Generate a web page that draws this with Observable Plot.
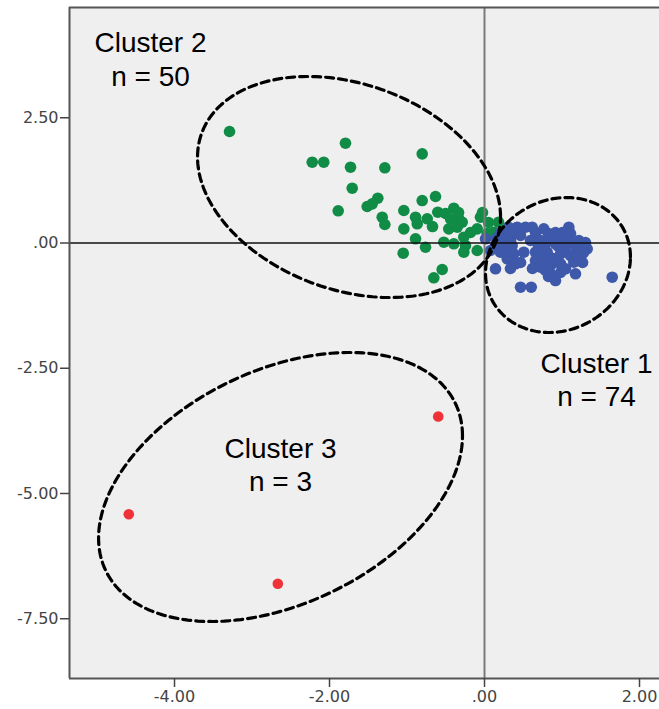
<!DOCTYPE html>
<html>
<head>
<meta charset="utf-8">
<script src="https://cdn.jsdelivr.net/npm/d3@7"></script>
<script src="https://cdn.jsdelivr.net/npm/@observablehq/plot@0.6"></script>
<style>
  body { margin: 0; background: #ffffff; }
</style>
</head>
<body>
<div id="chart"></div>
<script>
// Cluster 1 (n = 74) scores
const cluster1X = [0.310, 0.422, 0.529, 0.615, 0.765, 1.088, 0.271, 0.374, 0.594, 0.852,
  0.981, 1.217, 0.787, 0.916, 1.045, 1.325, 1.196, 0.249, 0.357, 0.206,
  0.378, 0.507, 0.658, 0.723, 0.809, 0.981, 1.110, 1.239, 1.174, 0.293,
  0.400, 0.658, 0.723, 0.852, 0.981, 1.045, 1.152, 0.142, 0.852, 0.916,
  1.174, 0.465, 0.603, 0.013, 0.155, 1.648, 0.465, 0.826, 0.658, 0.723,
  0.826, 0.916, 1.006, 1.110, 1.174, 1.277, 1.045, 0.890, 0.787, 0.310,
  0.465, 0.335, 0.206, 0.142, 0.077, 0.697, 0.955, 1.084, 0.619, 0.981,
  0.787, 1.303, 0.335, 1.265];
const cluster1Y = [0.315, 0.315, 0.315, 0.315, 0.283, 0.315, 0.150, 0.190, 0.050, 0.084,
  0.084, 0.050, -0.016, -0.016, -0.050, -0.116, -0.116, -0.050, -0.050, -0.184,
  -0.216, -0.184, -0.184, -0.216, -0.184, -0.216, -0.250, -0.283, -0.315, -0.315,
  -0.415, -0.349, -0.483, -0.449, -0.415, -0.515, -0.383, -0.515, -0.615, -0.749,
  -0.615, -0.882, -0.882, 0.084, 0.090, -0.683, 0.150, -0.669, 0.210, 0.050,
  0.190, 0.210, 0.210, 0.190, -0.050, -0.190, -0.150, -0.309, -0.349, -0.150,
  -0.389, 0.050, 0.210, -0.050, -0.150, -0.070, -0.070, 0.050, -0.509, -0.589,
  -0.549, 0.010, -0.509, -0.389];

// Cluster 2 (n = 50) scores
const cluster2X = [-3.290, -1.794, -2.223, -2.074, -0.804, -1.729, -1.286, -1.707, -1.377, -1.449,
  -1.514, -1.888, -0.632, -0.804, -1.041, -1.320, -1.286, -0.603, -0.396, -0.890,
  -0.739, -0.868, -1.041, -0.439, -0.332, -0.288, -0.461, -0.352, -0.052, -0.026,
  -0.094, -0.890, -0.761, -0.525, -0.396, -0.267, -0.245, -0.094, -1.049, -0.546,
  -0.654, 0.181, 0.120, 0.035, -0.267, -0.503, -0.181, 0.052, -0.671, -0.335];
const cluster2Y = [2.226, 1.992, 1.613, 1.613, 1.780, 1.513, 1.501, 1.094, 0.894, 0.782,
  0.729, 0.643, 0.928, 0.848, 0.649, 0.515, 0.369, 0.615, 0.695, 0.515,
  0.483, 0.383, 0.283, 0.483, 0.483, 0.415, 0.283, 0.315, 0.515, 0.609,
  0.283, 0.084, -0.084, 0.016, -0.016, 0.116, -0.050, -0.150, -0.204, -0.529,
  -0.695, 0.415, 0.216, 0.190, -0.184, 0.589, 0.210, 0.409, 0.329, 0.609];

// Cluster 3 (n = 3) scores
const cluster3X = [-4.590, -0.597, -2.667];
const cluster3Y = [-5.413, -3.463, -6.802];

// Cluster outlines: centre, half-extents and tilt (correlation) in score units
const ellipseCx = [0.948, -1.748, -2.632];
const ellipseCy = [-0.439, 1.118, -4.870];
const ellipseRx = [0.935, 1.955, 2.348];
const ellipseRy = [1.347, 2.206, 2.685];
const ellipseRho = [0.12, -0.27, 0.38];

// Cluster captions
const labelText = ["Cluster 1\nn = 74", "Cluster 2\nn = 50", "Cluster 3\nn = 3"];
const labelX = [1.445, -4.310, -2.632];
const labelY = [-3.263, 3.144, -4.954];

// Axis ticks
const xTicks = [-4, -2, 0, 2];
const yTicks = [2.5, 0, -2.5, -5, -7.5];
const xDomain = [-5.355, 2.258];
const yDomain = [-8.693, 4.701];

const colors = {1: "#3e58aa", 2: "#108c46", 3: "#ee3238"};

const toRows = (xs, ys, cluster) => xs.map((x, i) => ({x, y: ys[i], cluster}));
const pts1 = toRows(cluster1X, cluster1Y, 1);
const pts2 = toRows(cluster2X, cluster2Y, 2);
const pts3 = toRows(cluster3X, cluster3Y, 3);

const outline = [];
ellipseCx.forEach((cx, e) => {
  const s = Math.sqrt(1 - ellipseRho[e] ** 2);
  for (let k = 0; k <= 200; k++) {
    const t = (2 * Math.PI * k) / 200;
    outline.push({
      e,
      x: cx + ellipseRx[e] * Math.cos(t),
      y: ellipseCy[e] + ellipseRy[e] * (ellipseRho[e] * Math.cos(t) + s * Math.sin(t))
    });
  }
});

const labels = labelText.map((text, i) => ({text, x: labelX[i], y: labelY[i]}));

const fmt = d => d === 0 ? ".00" : (d < 0 ? "-" : "") + Math.abs(d).toFixed(2);

const chart = Plot.plot({
  width: 659,
  height: 709,
  marginLeft: 69,
  marginRight: 0,
  marginTop: 7,
  marginBottom: 31,
  x: {domain: xDomain, label: null},
  y: {domain: yDomain, label: null},
  style: {background: "#ffffff", fontFamily: "DejaVu Sans"},
  marks: [
    Plot.frame({fill: "#efefef", stroke: null}),
    Plot.dot(pts2, {x: "x", y: "y", r: 5.8, fill: colors[2], stroke: null}),
    Plot.dot(pts1, {x: "x", y: "y", r: 5.8, fill: colors[1], stroke: null}),
    Plot.dot(pts3, {x: "x", y: "y", r: 5.3, fill: colors[3], stroke: null}),
    Plot.ruleX([0], {stroke: "#7a7a7a", strokeWidth: 2}),
    Plot.ruleY([0], {stroke: "#111", strokeWidth: 1.4}),
    Plot.line(outline, {x: "x", y: "y", z: "e", stroke: "#000", strokeWidth: 3.2, strokeDasharray: "8,5"}),
    Plot.text(labels, {
      x: "x", y: "y", text: "text",
      lineAnchor: "bottom", lineHeight: 1.18,
      fontSize: 28, fontFamily: "Liberation Sans", fill: "#000"
    }),
    Plot.ruleX([xDomain[0]], {stroke: "#555", strokeWidth: 2}),
    Plot.ruleY([yDomain[0], yDomain[1]], {stroke: "#555", strokeWidth: 2}),
    Plot.axisX(xTicks, {
      label: null, tickFormat: fmt, tickSize: 9, tickPadding: 3, stroke: "#444", strokeWidth: 1.5,
      fill: "#444", fontSize: 16, fontFamily: "DejaVu Sans"
    }),
    Plot.axisY(yTicks, {
      label: null, tickFormat: fmt, tickSize: 9, tickPadding: 2, stroke: "#444", strokeWidth: 1.5,
      fill: "#444", fontSize: 16, fontFamily: "DejaVu Sans"
    })
  ]
});

document.getElementById("chart").appendChild(chart);
</script>
</body>
</html>
